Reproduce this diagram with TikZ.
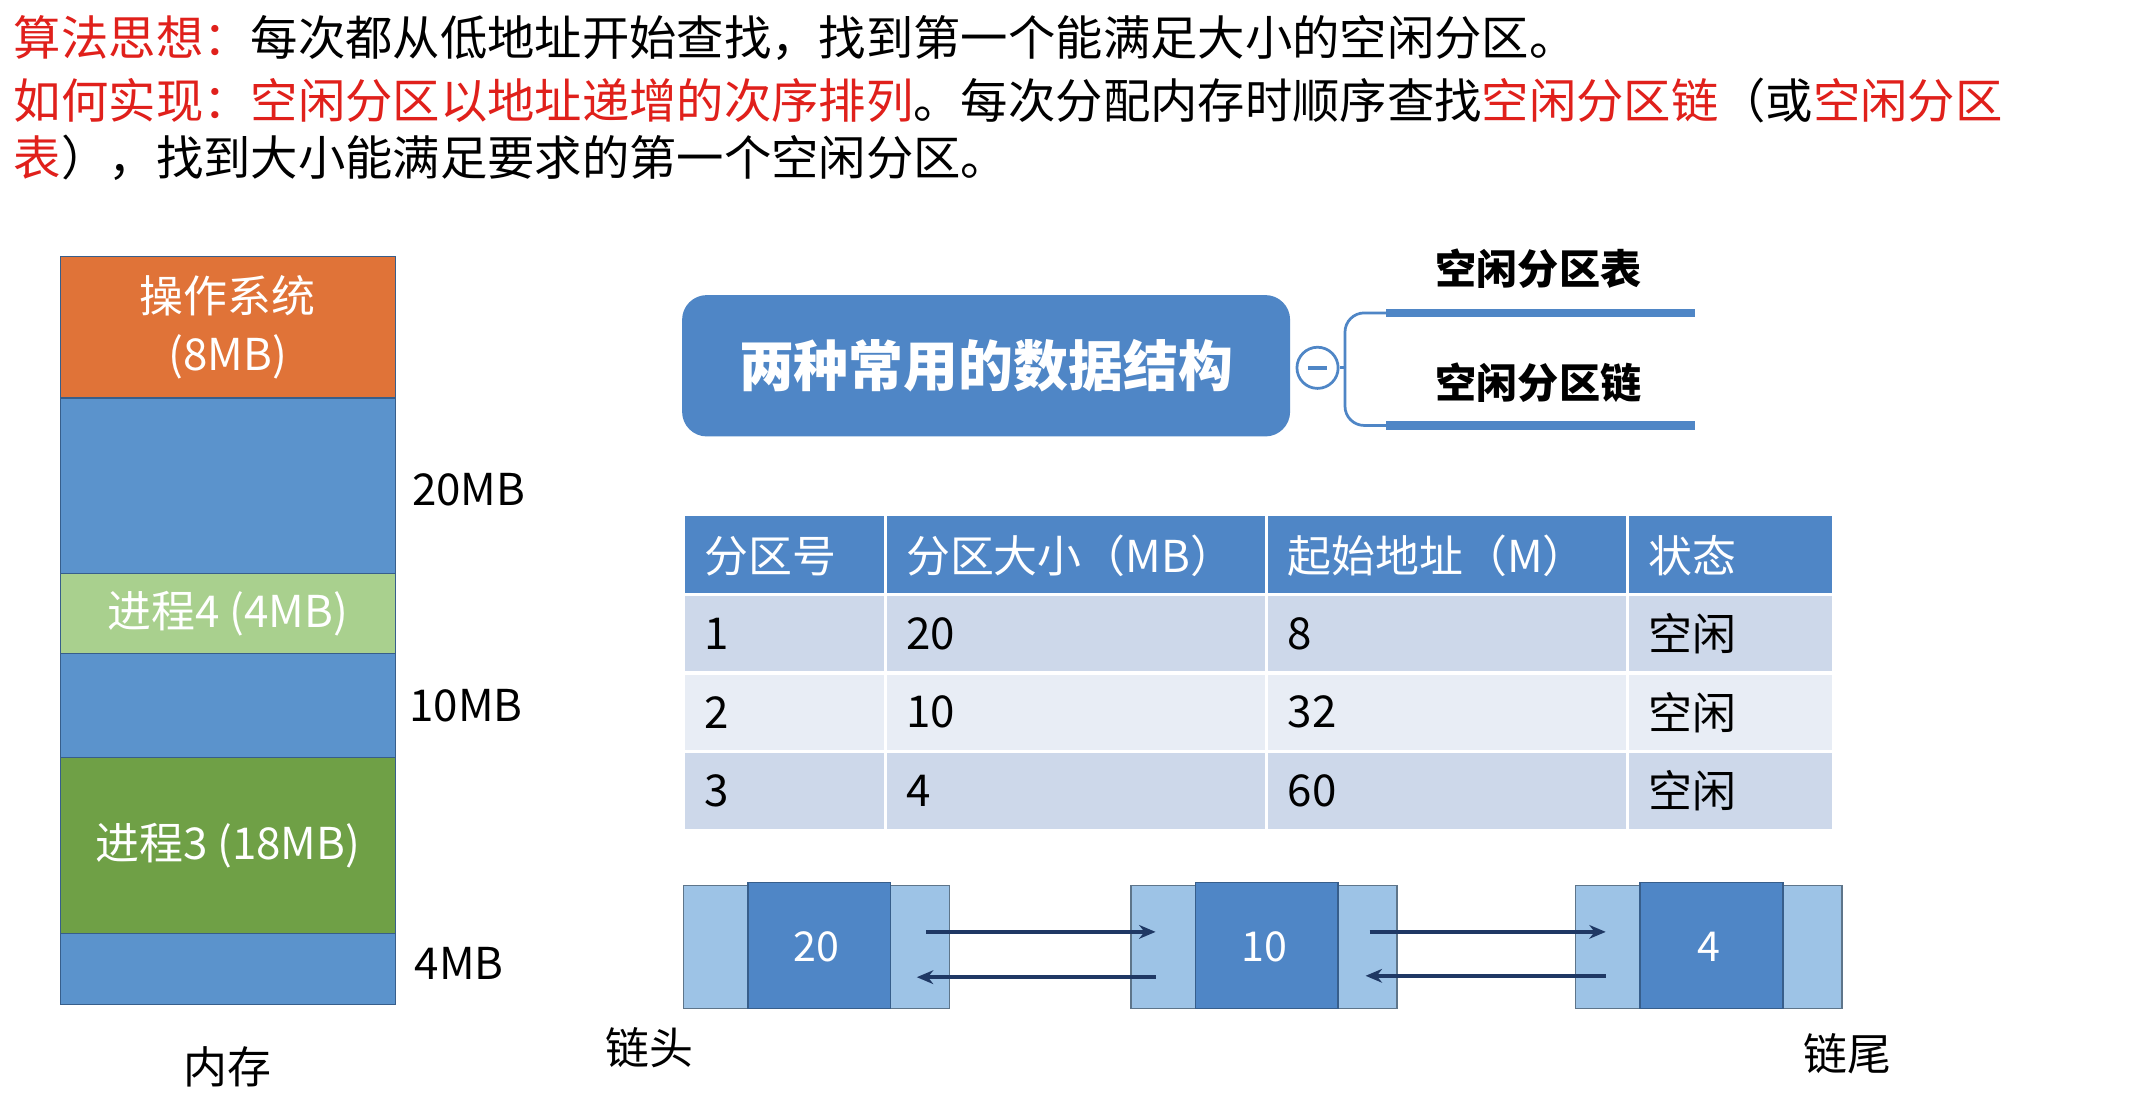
\documentclass[tikz,border=0pt]{standalone}
\usepackage{fontspec}
\setmainfont{Noto Sans CJK SC}
\usetikzlibrary{arrows.meta}
\definecolor{rd}{HTML}{E0201B}
\definecolor{osc}{HTML}{E07338}
\definecolor{blu}{HTML}{5B93CC}
\definecolor{lg}{HTML}{A9D08E}
\definecolor{dg}{HTML}{6FA046}
\definecolor{hb}{HTML}{4F86C6}
\definecolor{r1}{HTML}{CDD8EA}
\definecolor{r2}{HTML}{E8EDF5}
\definecolor{lb}{HTML}{9DC3E6}
\definecolor{nv}{HTML}{1F3864}
\tikzset{
 txt/.style={anchor=west,inner sep=0pt,font=\fontsize{34.5}{38}\selectfont},
 mem/.style={draw=hb!70!black,line width=1pt,inner sep=0pt,text=white,font=\fontsize{32}{42}\selectfont,align=center},
 lab/.style={anchor=west,inner sep=0pt,font=\fontsize{32}{36}\selectfont},
 ctext/.style={anchor=west,inner sep=0pt,font=\fontsize{32}{36}\selectfont},
 lnk/.style={-{Stealth[length=12pt,width=10pt]},nv,line width=3pt}
}
\begin{document}
\begin{tikzpicture}[x=1pt,y=-1pt]
\fill[white] (0,0) rectangle (1560,797);
\useasboundingbox (0,0) rectangle (1560,797);
% text lines
\node[txt] (l1) at (10,28) {\textcolor{rd}{算法思想：}每次都从低地址开始查找，找到第一个能满足大小的空闲分区。};
\node[txt] (l2) at (10,73) {\textcolor{rd}{如何实现：空闲分区以地址递增的次序排列}。每次分配内存时顺序查找\textcolor{rd}{空闲分区链}（或\textcolor{rd}{空闲分区}};
\node[txt] (l3) at (10,115) {\textcolor{rd}{表}），找到大小能满足要求的第一个空闲分区。};
% memory
\node[mem,fill=osc,minimum width=244,minimum height=103] (os) at (166,238.5) {操作系统\\(8MB)};
\node[mem,fill=blu,minimum width=244,minimum height=128] (f1) at (166,354) {};
\node[mem,fill=lg,minimum width=244,minimum height=58] (p4) at (166,447) {进程4 (4MB)};
\node[mem,fill=blu,minimum width=244,minimum height=76] (f2) at (166,514) {};
\node[mem,fill=dg,minimum width=244,minimum height=128] (p3) at (166,616) {进程3 (18MB)};
\node[mem,fill=blu,minimum width=244,minimum height=52] (f3) at (166,706) {};
\node[lab] (m20) at (300,357) {20MB};
\node[lab] (m10) at (298,514) {10MB};
\node[lab] (m4) at (302,702) {4MB};
\node[lab,anchor=center] (nc) at (166,777) {内存};
% mind map
\node[fill=hb,rounded corners=18pt,minimum width=443,minimum height=103,text=white,font=\fontsize{40}{44}\selectfont\bfseries] (ds) at (718.5,266.5) {两种常用的数据结构};
\node[circle,draw=hb,line width=2pt,fill=white,minimum size=30,inner sep=0pt] (mn) at (960,268) {};
\draw[hb,line width=2.5pt] (953,268) -- (967,268);
\draw[hb,line width=2pt] (mn.east) -- (980,268);
\draw[hb,line width=2pt,rounded corners=14pt] (980,268) -- (980,228) -- (1010,228);
\draw[hb,line width=2pt,rounded corners=14pt] (980,268) -- (980,310) -- (1010,310);
\draw[hb,line width=6pt] (1010,228) -- (1235,228);
\draw[hb,line width=6pt] (1010,310) -- (1235,310);
\node[lab,anchor=center,font=\fontsize{30}{34}\selectfont\bfseries] (t1) at (1121,196) {空闲分区表};
\node[lab,anchor=center,font=\fontsize{30}{34}\selectfont\bfseries] (t2) at (1121,279) {空闲分区链};
% table
\foreach \xa/\xb [count=\c] in {498/645,645/923,923/1186,1186/1335}{
  \fill[hb] (\xa,376) rectangle (\xb,432);
  \fill[r1] (\xa,434) rectangle (\xb,490);
  \fill[r2] (\xa,491) rectangle (\xb,547);
  \fill[r1] (\xa,548) rectangle (\xb,604);
  \draw[white,line width=2.5pt] (\xa,376) -- (\xa,604);
}
\draw[white,line width=2.5pt] (498,433) -- (1335,433) (498,490.5) -- (1335,490.5) (498,547.5) -- (1335,547.5);
\foreach \t/\x in {分区号/513,分区大小（MB）/660,起始地址（M）/938,状态/1201}
  \node[ctext,text=white] at (\x,405) {\t};
\foreach \a/\b/\cc/\d/\y in {1/20/8/空闲/462,2/10/32/空闲/519,3/4/60/空闲/576}{
  \node[ctext] at (513,\y) {\a};
  \node[ctext] at (660,\y) {\b};
  \node[ctext] at (938,\y) {\cc};
  \node[ctext] at (1201,\y) {\d};
}
% linked list
\foreach \n/\x/\v in {a/498/20,b/824/10,c/1148/4}{
  \draw[lb!60!black,fill=lb,line width=1pt] (\x,645) rectangle ++(194,90);
  \draw[hb!70!black,fill=hb,line width=1pt] (\x+47,643) rectangle ++(104,92);
  \node[inner sep=0pt,text=white,font=\fontsize{30}{34}\selectfont] (\n) at (\x+97,690) {\v};
}
\coordinate (a1) at (675,679); \coordinate (b1) at (842,679);
\coordinate (b2) at (842,712); \coordinate (a2) at (668,712);
\coordinate (b3) at (998,679); \coordinate (c1) at (1170,679);
\coordinate (c2) at (1170,711); \coordinate (b4) at (995,711);
\draw[lnk] (a1) -- (b1);
\draw[lnk] (b2) -- (a2);
\draw[lnk] (b3) -- (c1);
\draw[lnk] (c2) -- (b4);
\node[lab,anchor=center] (hd) at (473,763) {链头};
\node[lab,anchor=center] (tl) at (1346,768) {链尾};
\end{tikzpicture}
\end{document}
